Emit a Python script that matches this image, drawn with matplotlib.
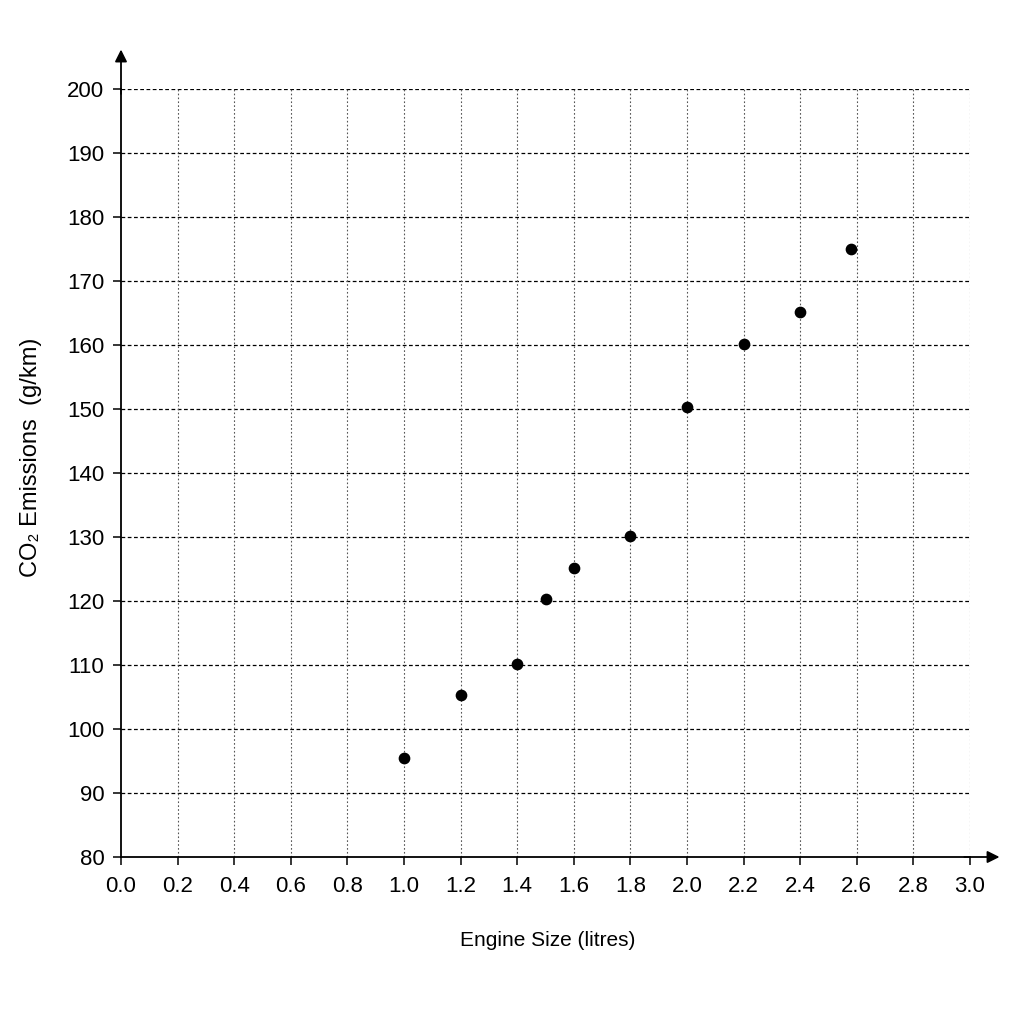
import matplotlib
matplotlib.use("Agg")
import matplotlib.pyplot as plt

engine_size = [1.0, 1.2, 1.4, 1.5, 1.6, 1.8, 2.0, 2.2, 2.4, 2.58]
co2 = [95.5, 105.3, 110.2, 120.3, 125.2, 130.2, 150.3, 160.2, 165.2, 175.0]
x_ticks = [0.0, 0.2, 0.4, 0.6, 0.8, 1.0, 1.2, 1.4, 1.6, 1.8, 2.0, 2.2, 2.4, 2.6, 2.8, 3.0]
y_ticks = [80, 90, 100, 110, 120, 130, 140, 150, 160, 170, 180, 190, 200]

plt.rcParams['font.family'] = ['Liberation Sans', 'DejaVu Sans']
fig = plt.figure(figsize=(10.24, 10.24), dpi=100)
ax = fig.add_axes([121/1024, 1 - 857/1024, (970 - 121)/1024, (857 - 89)/1024])

ax.set_xlim(0, 3.0)
ax.set_ylim(80, 200)

for y in y_ticks[1:]:
    ax.axhline(y, color='black', linestyle=(0, (3, 2)), linewidth=0.9, zorder=1)
for x in x_ticks[1:]:
    ax.axvline(x, color='#555555', linestyle=(0, (1.5, 2)), linewidth=0.8, zorder=1)

ax.scatter(engine_size, co2, s=55, color='black', zorder=3)

ax.spines['top'].set_visible(False)
ax.spines['right'].set_visible(False)
ax.spines['left'].set_linewidth(1.3)
ax.spines['bottom'].set_linewidth(1.3)

ax.annotate('', xy=(0, 1.055), xytext=(0, 0.99), xycoords='axes fraction',
            arrowprops=dict(arrowstyle='-|>', color='black', lw=1.3, mutation_scale=18),
            annotation_clip=False)
ax.annotate('', xy=(1.038, 0), xytext=(0.99, 0), xycoords='axes fraction',
            arrowprops=dict(arrowstyle='-|>', color='black', lw=1.3, mutation_scale=18),
            annotation_clip=False)

ax.set_xticks(x_ticks)
ax.set_xticklabels([f"{v:.1f}" for v in x_ticks])
ax.set_yticks(y_ticks)
ax.set_yticklabels([str(v) for v in y_ticks])
ax.tick_params(axis='both', direction='out', length=6, width=1.1, labelsize=16, colors='black')
ax.tick_params(axis='x', pad=8)
ax.tick_params(axis='y', pad=6)

ax.set_xlabel('Engine Size (litres)', fontsize=15)
ax.xaxis.set_label_coords((548 - 121) / 849, -(931 - 857) / 768)
ax.set_ylabel('CO₂ Emissions  (g/km)', fontsize=17)
ax.yaxis.set_label_coords((42 - 121) / 849, 1 - (457 - 89) / 768)

fig.savefig('out.png', dpi=100, facecolor='white')
